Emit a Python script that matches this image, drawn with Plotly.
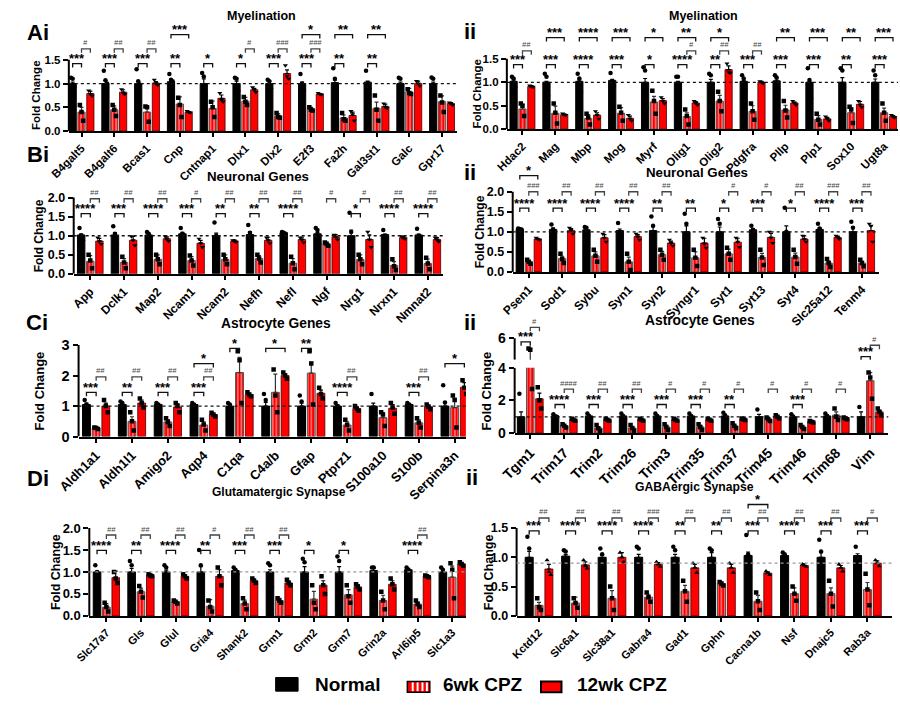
import numpy as np
import plotly.graph_objects as go

W, H = 900, 707
FONT = "Arial, Liberation Sans, sans-serif"
RED = "#ff0000"

# ======================= DATA =======================
# ---- Ai Myelination ----
ai_genes = ["B4galt5", "B4galt6", "Bcas1", "Cnp", "Cntnap1", "Dlx1", "Dlx2", "E2f3", "Fa2h", "Gal3st1", "Galc", "Gpr17"]
ai_normal = [1.0, 1.0, 1.0, 1.04, 1.0, 1.0, 1.0, 1.0, 1.02, 1.03, 1.0, 1.0]
ai_6wk = [0.40, 0.45, 0.40, 0.57, 0.48, 0.63, 0.32, 0.47, 0.28, 0.48, 0.82, 0.62]
ai_12wk = [0.79, 0.82, 1.01, 0.40, 0.69, 0.87, 1.21, 0.78, 0.33, 0.52, 1.0, 0.58]
ai_normal_err = [0.03, 0.06, 0.05, 0.03, 0.1, 0.05, 0.06, 0.03, 0.05, 0.02, 0.03, 0.03]
ai_6wk_err = [0.1, 0.08, 0.12, 0.15, 0.15, 0.08, 0.05, 0.03, 0.06, 0.13, 0.08, 0.12]
ai_12wk_err = [0.05, 0.05, 0.03, 0.01, 0.07, 0.03, 0.08, 0.01, 0.07, 0.05, 0.05, 0.02]
ai_normal_pts = [[1.12, 1.1, 0.93], [1.27, 1.07, 1.0], [1.3, 1.05, 0.98], [1.2, 1.08, 1.05], [1.22, 1.15, 0.75], [1.12, 1.1, 0.85],
                 [1.08, 1.05, 0.9], [1.2, 1.0, 0.85], [1.32, 1.1, 0.65], [1.27, 0.95, 0.9], [1.12, 1.1, 0.8], [1.13, 1.1, 0.85]]
ai_6wk_pts = [[0.55, 0.4, 0.22], [0.55, 0.45, 0.32], [0.52, 0.5, 0.2], [0.7, 0.55, 0.3], [0.62, 0.5, 0.3], [0.72, 0.62, 0.55],
              [0.38, 0.3, 0.28], [0.5, 0.45, 0.43], [0.38, 0.25, 0.22], [0.75, 0.45, 0.22], [0.88, 0.8, 0.78], [0.75, 0.6, 0.4]]
ai_12wk_pts = [[0.85, 0.78, 0.74], [0.88, 0.8, 0.78], [1.08, 1.0, 0.97], [0.42, 0.4, 0.39], [0.8, 0.65, 0.62], [0.92, 0.87, 0.82],
               [1.38, 1.15, 1.1], [0.8, 0.78, 0.77], [0.42, 0.35, 0.22], [0.58, 0.5, 0.48], [1.05, 1.0, 0.95], [0.6, 0.58, 0.55]]
ai_sig_n6 = ["***", "***", "***", "**", "*", "*", "***", "***", "**", "**", "", ""]
ai_sig_6_12 = ["#", "##", "##", "", "", "#", "###", "###", "", "", "", ""]
ai_sig_n_12 = ["", "", "", "***", "", "", "", "*", "**", "**", "", ""]

# ---- Aii Myelination ----
aii_genes = ["Hdac2", "Mag", "Mbp", "Mog", "Myrf", "Olig1", "Olig2", "Pdgfra", "Pllp", "Plp1", "Sox10", "Ugt8a"]
aii_normal = [1.02, 1.0, 1.02, 1.04, 1.0, 1.0, 1.0, 1.02, 1.03, 1.0, 1.0, 1.0]
aii_6wk = [0.43, 0.34, 0.23, 0.34, 0.58, 0.27, 0.60, 0.38, 0.41, 0.21, 0.35, 0.35]
aii_12wk = [0.91, 0.31, 0.30, 0.23, 0.61, 0.56, 1.27, 1.0, 0.56, 0.22, 0.53, 0.27]
aii_normal_err = [0.03, 0.02, 0.03, 0.02, 0.08, 0.02, 0.06, 0.02, 0.04, 0.02, 0.1, 0.07]
aii_6wk_err = [0.1, 0.15, 0.08, 0.12, 0.12, 0.08, 0.12, 0.12, 0.1, 0.08, 0.1, 0.1]
aii_12wk_err = [0.02, 0.01, 0.05, 0.05, 0.04, 0.03, 0.08, 0.02, 0.02, 0.03, 0.06, 0.02]
aii_normal_pts = [[1.12, 1.08, 0.9], [1.18, 1.12, 0.72], [1.18, 1.08, 0.8], [1.2, 1.0, 0.92], [1.32, 1.25, 0.45], [1.12, 1.12, 0.78],
                  [1.18, 1.15, 0.68], [1.15, 1.08, 0.85], [1.15, 1.1, 0.85], [1.3, 1.05, 0.65], [1.3, 1.25, 0.45], [1.25, 1.15, 0.6]]
aii_6wk_pts = [[0.55, 0.5, 0.28], [0.55, 0.35, 0.12], [0.33, 0.25, 0.1], [0.48, 0.35, 0.18], [0.82, 0.6, 0.33], [0.42, 0.28, 0.1],
               [0.8, 0.6, 0.38], [0.55, 0.38, 0.2], [0.6, 0.4, 0.25], [0.33, 0.2, 0.1], [0.48, 0.42, 0.13], [0.55, 0.35, 0.18]]
aii_12wk_pts = [[0.93, 0.91, 0.9], [0.33, 0.31, 0.3], [0.38, 0.3, 0.22], [0.3, 0.22, 0.18], [0.68, 0.6, 0.55], [0.6, 0.56, 0.52],
                [1.4, 1.22, 1.2], [1.02, 1.0, 0.98], [0.6, 0.56, 0.52], [0.27, 0.22, 0.18], [0.6, 0.52, 0.47], [0.3, 0.27, 0.25]]
aii_sig_n6 = ["***", "***", "****", "***", "*", "****", "**", "***", "***", "***", "**", "***"]
aii_sig_6_12 = ["##", "", "", "", "", "#", "##", "##", "", "", "", ""]
aii_sig_n_12 = ["", "***", "****", "***", "*", "**", "*", "", "**", "***", "**", "***"]

# ---- Bi Neuronal ----
bi_genes = ["App", "Dclk1", "Map2", "Ncam1", "Ncam2", "Nefh", "Nefl", "Ngf", "Nrg1", "Nrxn1", "Nmnat2"]
bi_normal = [1.02, 1.02, 1.02, 1.05, 1.0, 1.03, 1.08, 1.05, 1.0, 1.03, 1.02]
bi_6wk = [0.33, 0.30, 0.38, 0.35, 0.38, 0.40, 0.28, 0.78, 0.38, 0.22, 0.27]
bi_12wk = [0.86, 0.88, 0.92, 0.80, 0.86, 0.88, 0.90, 0.97, 0.90, 0.95, 0.90]
bi_normal_err = [0.03, 0.06, 0.03, 0.04, 0.07, 0.08, 0.01, 0.04, 0.15, 0.01, 0.02]
bi_6wk_err = [0.15, 0.1, 0.12, 0.1, 0.12, 0.08, 0.12, 0.05, 0.12, 0.1, 0.12]
bi_12wk_err = [0.07, 0.1, 0.05, 0.08, 0.03, 0.08, 0.06, 0.06, 0.12, 0.03, 0.05]
bi_normal_pts = [[1.2, 1.0, 0.88], [1.25, 1.05, 0.78], [1.1, 1.05, 0.9], [1.2, 1.05, 0.9], [1.35, 1.0, 0.65], [1.28, 1.08, 0.72],
                 [1.1, 1.08, 1.05], [1.2, 1.15, 0.8], [1.6, 1.1, 0.3], [1.15, 1.0, 0.95], [1.18, 1.0, 0.9]]
bi_6wk_pts = [[0.5, 0.35, 0.15], [0.45, 0.3, 0.15], [0.5, 0.38, 0.25], [0.48, 0.35, 0.22], [0.5, 0.38, 0.25], [0.5, 0.4, 0.3],
              [0.45, 0.28, 0.12], [0.82, 0.78, 0.74], [0.5, 0.38, 0.25], [0.38, 0.2, 0.1], [0.42, 0.27, 0.12]]
bi_12wk_pts = [[0.95, 0.85, 0.78], [0.98, 0.88, 0.75], [0.98, 0.92, 0.86], [0.92, 0.8, 0.7], [0.88, 0.86, 0.84], [0.95, 0.88, 0.8],
               [0.95, 0.9, 0.82], [1.02, 0.97, 0.9], [1.1, 0.9, 0.7], [0.98, 0.95, 0.92], [0.95, 0.9, 0.85]]
bi_sig_n6 = ["****", "***", "****", "***", "**", "**", "****", "", "*", "****", "****"]
bi_sig_6_12 = ["##", "##", "##", "#", "##", "##", "##", "#", "#", "##", "##"]
bi_sig_n_12 = [""] * 11

# ---- Bii Neuronal ----
bii_genes = ["Psen1", "Sod1", "Sybu", "Syn1", "Syn2", "Syngr1", "Syt1", "Syt13", "Syt4", "Slc25a12", "Tenm4"]
bii_normal = [1.07, 1.06, 1.05, 1.03, 1.03, 1.0, 1.0, 1.05, 1.0, 1.06, 1.0]
bii_6wk = [0.25, 0.33, 0.40, 0.25, 0.43, 0.35, 0.45, 0.36, 0.37, 0.22, 0.22]
bii_12wk = [0.82, 1.03, 0.85, 0.88, 0.72, 0.72, 0.74, 0.86, 0.82, 0.86, 1.03]
bii_normal_err = [0.01, 0.04, 0.02, 0.04, 0.1, 0.15, 0.12, 0.03, 0.15, 0.04, 0.12]
bii_6wk_err = [0.03, 0.06, 0.1, 0.12, 0.08, 0.15, 0.12, 0.1, 0.1, 0.05, 0.04]
bii_12wk_err = [0.02, 0.05, 0.08, 0.05, 0.05, 0.12, 0.1, 0.1, 0.08, 0.03, 0.12]
bii_normal_pts = [[1.08, 1.07, 1.06], [1.18, 1.05, 0.95], [1.12, 1.1, 0.92], [1.22, 1.0, 0.87], [1.38, 1.15, 0.56], [1.45, 1.2, 0.35],
                  [1.32, 1.2, 0.5], [1.15, 1.05, 0.95], [1.6, 1.0, 0.4], [1.2, 1.08, 0.9], [1.25, 1.1, 0.65]]
bii_6wk_pts = [[0.3, 0.25, 0.2], [0.45, 0.32, 0.22], [0.55, 0.4, 0.25], [0.45, 0.25, 0.05], [0.55, 0.43, 0.3], [0.55, 0.35, 0.15],
               [0.6, 0.45, 0.3], [0.55, 0.36, 0.17], [0.55, 0.37, 0.2], [0.32, 0.22, 0.12], [0.3, 0.22, 0.14]]
bii_12wk_pts = [[0.85, 0.82, 0.8], [1.1, 1.05, 0.95], [0.95, 0.85, 0.75], [0.95, 0.88, 0.8], [0.8, 0.72, 0.65], [0.85, 0.7, 0.6],
                [0.85, 0.75, 0.62], [1.0, 0.85, 0.72], [0.9, 0.82, 0.75], [0.9, 0.86, 0.82], [1.2, 1.15, 0.75]]
bii_sig_n6 = ["****", "****", "****", "****", "**", "**", "*", "***", "*", "****", "***"]
bii_sig_6_12 = ["###", "##", "##", "##", "##", "", "#", "#", "##", "###", "##"]
bii_sig_n_12 = ["*"] + [""] * 10

# ---- Ci Astrocyte ----
ci_genes = ["Aldh1a1", "Aldh1l1", "Amigo2", "Aqp4", "C1qa", "C4a/b", "Gfap", "Ptprz1", "S100a10", "S100b", "Serpina3n"]
ci_normal = [1.05, 1.05, 1.05, 1.05, 1.0, 1.0, 1.0, 1.0, 1.0, 1.05, 1.0]
ci_6wk = [0.28, 0.50, 0.48, 0.38, 2.10, 1.45, 2.08, 0.38, 0.62, 0.45, 0.95]
ci_12wk = [1.0, 1.1, 0.97, 0.72, 1.38, 2.0, 1.42, 0.92, 0.93, 0.98, 1.62]
ci_normal_err = [0.05, 0.05, 0.03, 0.03, 0.05, 0.12, 0.1, 0.05, 0.1, 0.03, 0.15]
ci_6wk_err = [0.02, 0.15, 0.08, 0.1, 0.5, 0.6, 0.35, 0.1, 0.15, 0.1, 0.3]
ci_12wk_err = [0.1, 0.1, 0.1, 0.03, 0.04, 0.06, 0.1, 0.04, 0.12, 0.05, 0.15]
ci_normal_pts = [[1.2, 1.05, 0.9], [1.15, 1.1, 0.9], [1.1, 1.05, 1.0], [1.1, 1.05, 1.0], [1.1, 1.05, 0.85], [1.4, 1.2, 0.5],
                 [1.35, 1.15, 0.5], [1.1, 1.0, 0.9], [1.4, 0.9, 0.7], [1.1, 1.05, 1.0], [1.68, 1.12, 0.3]]
ci_6wk_pts = [[0.3, 0.28, 0.25], [0.8, 0.5, 0.2], [0.6, 0.48, 0.35], [0.55, 0.4, 0.2], [2.8, 2.5, 1.1], [2.2, 1.35, 0.8],
              [2.8, 2.4, 1.05], [0.55, 0.38, 0.2], [0.8, 0.72, 0.35], [0.6, 0.45, 0.3], [1.35, 1.2, 0.3]]
ci_12wk_pts = [[1.2, 1.0, 0.8], [1.25, 1.1, 0.95], [1.1, 1.0, 0.8], [0.78, 0.72, 0.66], [1.45, 1.38, 1.32], [2.1, 2.0, 1.9],
               [1.6, 1.4, 1.25], [1.0, 0.92, 0.85], [1.1, 0.95, 0.75], [1.05, 0.98, 0.9], [1.85, 1.6, 1.4]]
ci_sig_n6 = ["***", "**", "***", "***", "*", "", "**", "****", "", "***", ""]
ci_sig_6_12 = ["##", "##", "##", "##", "", "", "", "##", "", "##", ""]
ci_sig_n_12 = ["", "", "", "*", "", "*", "", "", "", "", "*"]

# ---- Cii Astrocyte ----
cii_genes = ["Tgm1", "Trim17", "Trim2", "Trim26", "Trim3", "Trim35", "Trim37", "Trim45", "Trim46", "Trim68", "Vim"]
cii_normal = [1.0, 1.05, 1.05, 1.05, 1.05, 1.05, 1.05, 1.0, 1.0, 1.05, 1.0]
cii_6wk = [4.4, 0.45, 0.32, 0.32, 0.38, 0.38, 0.45, 0.85, 0.37, 1.1, 3.2]
cii_12wk = [2.1, 0.82, 0.82, 0.82, 0.82, 0.82, 0.85, 1.0, 0.7, 0.9, 1.3]
cii_normal_err = [0.3, 0.05, 0.05, 0.05, 0.05, 0.05, 0.05, 0.15, 0.08, 0.05, 0.3]
cii_6wk_err = [0.9, 0.04, 0.08, 0.08, 0.1, 0.1, 0.08, 0.05, 0.08, 0.2, 0.5]
cii_12wk_err = [0.35, 0.03, 0.03, 0.03, 0.03, 0.03, 0.03, 0.05, 0.03, 0.03, 0.1]
cii_normal_pts = [[2.4, 0.4, 0.2], [1.15, 1.0, 1.0], [1.2, 1.05, 0.9], [1.2, 1.05, 0.9], [1.2, 1.05, 0.9], [1.2, 1.05, 0.9],
                  [1.25, 1.1, 0.8], [1.45, 0.85, 0.7], [1.15, 1.0, 0.85], [1.2, 1.05, 0.9], [1.6, 0.9, 0.5]]
cii_6wk_pts = [[5.3, 5.2, 2.7], [0.55, 0.45, 0.35], [0.5, 0.3, 0.15], [0.5, 0.32, 0.15], [0.55, 0.38, 0.2], [0.55, 0.38, 0.2],
               [0.6, 0.45, 0.3], [0.95, 0.85, 0.75], [0.5, 0.37, 0.25], [1.5, 1.0, 0.8], [3.7, 3.4, 2.1]]
cii_12wk_pts = [[2.8, 2.0, 1.5], [0.88, 0.82, 0.76], [0.88, 0.82, 0.76], [0.88, 0.82, 0.76], [0.88, 0.82, 0.76], [0.88, 0.82, 0.76],
                [0.9, 0.85, 0.8], [1.1, 1.0, 0.9], [0.75, 0.7, 0.65], [0.95, 0.9, 0.85], [1.5, 1.3, 1.1]]
cii_sig_n6 = ["***", "****", "***", "***", "***", "***", "**", "", "***", "", "***"]
cii_sig_6_12 = ["#", "####", "##", "##", "#", "#", "#", "#", "#", "#", "#"]
cii_sig_n_12 = [""] * 11

# ---- Di Glutamatergic ----
di_genes = ["Slc17a7", "Gls", "Glul", "Gria4", "Shank2", "Grm1", "Grm2", "Grm7", "Grin2a", "Arl6ip5", "Slc1a3"]
di_normal = [1.0, 1.0, 1.0, 1.0, 1.03, 1.0, 1.0, 1.0, 1.03, 1.05, 1.0]
di_6wk = [0.20, 0.55, 0.32, 0.22, 0.28, 0.35, 0.38, 0.48, 0.35, 0.27, 0.88]
di_12wk = [0.87, 0.92, 0.90, 0.90, 0.80, 0.75, 0.70, 0.66, 0.72, 0.90, 1.18]
di_normal_err = [0.02, 0.08, 0.04, 0.12, 0.03, 0.05, 0.12, 0.12, 0.05, 0.03, 0.05]
di_6wk_err = [0.08, 0.08, 0.03, 0.15, 0.08, 0.05, 0.18, 0.12, 0.12, 0.05, 0.25]
di_12wk_err = [0.15, 0.03, 0.03, 0.15, 0.04, 0.05, 0.1, 0.05, 0.08, 0.02, 0.03]
di_normal_pts = [[1.15, 1.0, 0.85], [1.25, 1.15, 0.6], [1.15, 1.1, 0.75], [1.5, 1.15, 0.35], [1.1, 1.05, 0.95], [1.2, 1.15, 0.65],
                 [1.3, 1.22, 0.5], [1.35, 1.25, 0.4], [1.1, 1.1, 0.9], [1.1, 1.05, 1.0], [1.1, 1.05, 0.85]]
di_6wk_pts = [[0.3, 0.2, 0.1], [0.68, 0.55, 0.42], [0.35, 0.32, 0.28], [0.35, 0.2, 0.1], [0.4, 0.28, 0.15], [0.4, 0.35, 0.3],
              [0.7, 0.3, 0.15], [0.7, 0.45, 0.3], [0.55, 0.35, 0.15], [0.35, 0.27, 0.2], [1.2, 1.05, 0.4]]
di_12wk_pts = [[1.0, 0.85, 0.75], [0.95, 0.92, 0.9], [0.95, 0.9, 0.85], [1.1, 0.9, 0.7], [0.85, 0.8, 0.75], [0.82, 0.75, 0.7],
               [0.9, 0.7, 0.5], [0.72, 0.66, 0.6], [0.85, 0.72, 0.6], [0.92, 0.9, 0.88], [1.22, 1.18, 1.14]]
di_sig_n6 = ["****", "**", "****", "**", "***", "***", "*", "*", "", "****", ""]
di_sig_6_12 = ["##", "##", "##", "#", "##", "##", "", "", "", "##", ""]
di_sig_n_12 = [""] * 11

# ---- Dii GABAergic ----
dii_genes = ["Kctd12", "Slc6a1", "Slc38a1", "Gabra4", "Gad1", "Gphn", "Cacna1b", "Nsf", "Dnajc5", "Rab3a"]
dii_normal = [1.0, 1.02, 1.0, 1.0, 1.0, 1.0, 1.03, 1.03, 1.0, 1.03]
dii_6wk = [0.18, 0.22, 0.30, 0.32, 0.42, 0.55, 0.25, 0.38, 0.38, 0.45]
dii_12wk = [0.80, 0.87, 1.0, 0.88, 0.82, 0.82, 0.73, 0.86, 0.82, 0.90]
dii_normal_err = [0.1, 0.03, 0.03, 0.05, 0.05, 0.08, 0.06, 0.02, 0.08, 0.03]
dii_6wk_err = [0.05, 0.1, 0.13, 0.05, 0.1, 0.03, 0.1, 0.1, 0.1, 0.12]
dii_12wk_err = [0.08, 0.05, 0.08, 0.03, 0.06, 0.06, 0.02, 0.03, 0.04, 0.04]
dii_normal_pts = [[1.35, 1.15, 0.5], [1.12, 1.1, 0.85], [1.15, 1.05, 0.8], [1.18, 1.15, 0.67], [1.18, 1.12, 0.7], [1.15, 1.12, 0.73],
                  [1.38, 1.05, 0.66], [1.08, 1.05, 0.96], [1.3, 1.1, 0.6], [1.18, 1.0, 0.9]]
dii_6wk_pts = [[0.3, 0.15, 0.1], [0.3, 0.22, 0.14], [0.5, 0.3, 0.1], [0.4, 0.32, 0.24], [0.6, 0.42, 0.24], [0.58, 0.55, 0.52],
               [0.4, 0.25, 0.1], [0.5, 0.38, 0.26], [0.6, 0.38, 0.16], [0.72, 0.45, 0.18]]
dii_12wk_pts = [[0.95, 0.75, 0.7], [0.95, 0.85, 0.81], [1.08, 1.0, 0.92], [0.92, 0.88, 0.84], [0.9, 0.82, 0.74], [0.9, 0.82, 0.74],
                [0.76, 0.73, 0.7], [0.88, 0.86, 0.84], [0.88, 0.82, 0.76], [0.95, 0.9, 0.85]]
dii_sig_n6 = ["***", "****", "****", "****", "**", "**", "***", "****", "***", "***"]
dii_sig_6_12 = ["##", "##", "##", "###", "##", "##", "##", "##", "##", "#"]
dii_sig_n_12 = ["", "", "", "", "", "", "*", "", "", ""]

legend_names = ["Normal", "6wk CPZ", "12wk CPZ"]

# ======================= LAYOUT CONFIG =======================
panels = [
    dict(genes=ai_genes, means=(ai_normal, ai_6wk, ai_12wk), errs=(ai_normal_err, ai_6wk_err, ai_12wk_err),
         pts=(ai_normal_pts, ai_6wk_pts, ai_12wk_pts),
         sig=(ai_sig_n6, ai_sig_6_12, ai_sig_n_12), levels=(1.42, 1.73, 2.03),
         left=48, c0=61, sp=33.6, right=446, y0=126, ppu=48.67, ytop=2.18,
         yticks=[0, 0.5, 1.0, 1.5], fmt="{:.1f}", ref=1.0, refcol="#111", yfs=11.5, xfs=11.5,
         title="Myelination", tx=246, ty=8, tfs=12.5, lab="Ai", lx=3, ly=25, ytx=15, yts=11.5, sym12="triangle-down"),
    dict(genes=aii_genes, means=(aii_normal, aii_6wk, aii_12wk), errs=(aii_normal_err, aii_6wk_err, aii_12wk_err),
         pts=(aii_normal_pts, aii_6wk_pts, aii_12wk_pts),
         sig=(aii_sig_n6, aii_sig_6_12, aii_sig_n_12), levels=(1.375, 1.67, 1.95),
         left=497, c0=513, sp=33.7, right=898, y0=124, ppu=48, ytop=2.2,
         yticks=[0, 0.5, 1.0, 1.5], fmt="{:.1f}", ref=1.0, refcol="#111", yfs=11.5, xfs=11.5,
         title="Myelination", tx=699, ty=8, tfs=12.5, lab="ii", lx=451, ly=24, ytx=466, yts=11.5, sym12="triangle-down"),
    dict(genes=bi_genes, means=(bi_normal, bi_6wk, bi_12wk), errs=(bi_normal_err, bi_6wk_err, bi_12wk_err),
         pts=(bi_normal_pts, bi_6wk_pts, bi_12wk_pts),
         sig=(bi_sig_n6, bi_sig_6_12, bi_sig_n_12), levels=(1.58, 1.97, 2.3),
         left=53, c0=70, sp=34.6, right=432, y0=272, ppu=39, ytop=2.36,
         yticks=[0, 0.5, 1.0, 1.5, 2.0], fmt="{:.1f}", ref=1.0, refcol="#111", yfs=12.5, xfs=12,
         title="Neuronal Genes", tx=242, ty=172, tfs=13.3, lab="Bi", lx=3, ly=150, ytx=17, yts=12, sym12="triangle-down"),
    dict(genes=bii_genes, means=(bii_normal, bii_6wk, bii_12wk), errs=(bii_normal_err, bii_6wk_err, bii_12wk_err),
         pts=(bii_normal_pts, bii_6wk_pts, bii_12wk_pts),
         sig=(bii_sig_n6, bii_sig_6_12, bii_sig_n_12), levels=(1.59, 2.0, 2.4),
         left=503, c0=519.5, sp=34.15, right=878, y0=270, ppu=41, ytop=2.73,
         yticks=[0, 0.5, 1.0, 1.5, 2.0], fmt="{:.1f}", ref=1.0, refcol="#111", yfs=12.5, xfs=12,
         title="Neuronal Genes", tx=692, ty=168, tfs=13.3, lab="ii", lx=451, ly=168, ytx=469, yts=12, sym12="triangle-down"),
    dict(genes=ci_genes, means=(ci_normal, ci_6wk, ci_12wk), errs=(ci_normal_err, ci_6wk_err, ci_12wk_err),
         pts=(ci_normal_pts, ci_6wk_pts, ci_12wk_pts),
         sig=(ci_sig_n6, ci_sig_6_12, ci_sig_n_12), levels=(1.45, 1.96, 2.39),
         override={(4, "N6"): 2.89, (5, "N12"): 2.89, (6, "N6"): 2.89},
         left=58, c0=76, sp=36.75, right=455, y0=438.5, ppu=31.2, ytop=3.35,
         yticks=[0, 1, 2, 3], fmt="{:.0f}", ref=1.0, refcol="#111", yfs=14.5, xfs=13,
         title="Astrocyte Genes", tx=260, ty=323, tfs=13.8, lab="Ci", lx=2, ly=322, ytx=18, yts=13, sym12="square"),
    dict(genes=cii_genes, means=(cii_normal, cii_6wk, cii_12wk), errs=(cii_normal_err, cii_6wk_err, cii_12wk_err),
         pts=(cii_normal_pts, cii_6wk_pts, cii_12wk_pts),
         sig=(cii_sig_n6, cii_sig_6_12, cii_sig_n_12), levels=(1.75, 2.69, 3.2),
         upper=dict(rng=[4.5, 7.5], ybot=360, ppu=14.67, ticks=[6], axtop=6),
         upover={(0, "N6"): 5.75, (0, "612"): 6.77, (10, "N6"): 4.72, (10, "612"): 5.52},
         left=505, c0=521, sp=34.85, right=888, y0=435, ppu=16.75, ytop=4.0,
         yticks=[0, 2, 4], fmt="{:.0f}", ref=1.0, refcol="#111", yfs=14, xfs=14,
         title="Astrocyte Genes", tx=695, ty=320, tfs=13.8, lab="ii", lx=451, ly=322, ytx=476, yts=13, sym12="square"),
    dict(genes=di_genes, means=(di_normal, di_6wk, di_12wk), errs=(di_normal_err, di_6wk_err, di_12wk_err),
         pts=(di_normal_pts, di_6wk_pts, di_12wk_pts),
         sig=(di_sig_n6, di_sig_6_12, di_sig_n_12), levels=(1.49, 1.84, 2.1),
         left=69, c0=86.5, sp=35.45, right=455, y0=622, ppu=45, ytop=2.11,
         yticks=[0, 0.5, 1.0, 1.5, 2.0], fmt="{:.1f}", ref=1.0, refcol="#999", yfs=13, xfs=11,
         title="Glutamatergic Synapse", tx=263, ty=495, tfs=12, lab="Di", lx=3, ly=481, ytx=35, yts=12.5, sym12="square"),
    dict(genes=dii_genes, means=(dii_normal, dii_6wk, dii_12wk), errs=(dii_normal_err, dii_6wk_err, dii_12wk_err),
         pts=(dii_normal_pts, dii_6wk_pts, dii_12wk_pts),
         sig=(dii_sig_n6, dii_sig_6_12, dii_sig_n_12), levels=(1.45, 1.67, 1.9),
         left=507, c0=530, sp=37.4, right=892, y0=622, ppu=60, ytop=2.03,
         yticks=[0, 0.5, 1.0, 1.5], fmt="{:.1f}", ref=0.9, refcol="#999", yfs=12.5, xfs=11,
         title="GABAergic Synapse", tx=689, ty=490, tfs=12.2, lab="ii", lx=453, ly=480, ytx=479, yts=12.5, sym12="triangle-up"),
]

OFF = 0.27
BW = 0.22
JIT = [-0.05, 0.0, 0.05]

fig = go.Figure()
layout = {}
shapes = []
annots = []


def names(k):
    return ("x" if k == 1 else f"x{k}", "y" if k == 1 else f"y{k}",
            "xaxis" if k == 1 else f"xaxis{k}", "yaxis" if k == 1 else f"yaxis{k}")


def add_data(p, xa, ya):
    n = len(p["genes"])
    idx = np.arange(n)
    offs = [-OFF, 0.0, OFF]
    for g in range(3):
        if g == 0:
            mk = dict(color="black", line=dict(color="black", width=1))
            ec = "black"
        elif g == 1:
            mk = dict(color=RED, line=dict(color="#555", width=1),
                      pattern=dict(shape="|", fillmode="overlay", fgcolor="white", size=3.5, solidity=0.4))
            ec = "#333"
        else:
            mk = dict(color=RED, line=dict(color="#400", width=0.8))
            ec = "black"
        fig.add_trace(go.Bar(x=idx + offs[g], y=p["means"][g], width=BW, marker=mk,
                             error_y=dict(type="data", array=p["errs"][g], arrayminus=np.zeros(n), symmetric=False,
                                          color=ec, thickness=1.2, width=2),
                             xaxis=xa, yaxis=ya, showlegend=False, hoverinfo="skip", name=legend_names[g]))
    syms = ["circle", "square", p["sym12"]]
    for g in range(3):
        pts = np.array(p["pts"][g], dtype=float)
        xs, ys = [], []
        for j in range(pts.shape[1]):
            xs.extend(idx + offs[g] + JIT[j])
            ys.extend(pts[:, j])
        fig.add_trace(go.Scatter(x=xs, y=ys, mode="markers",
                                 marker=dict(symbol=syms[g], size=4.5, color="black"),
                                 xaxis=xa, yaxis=ya, showlegend=False, hoverinfo="skip"))


for k, p in enumerate(panels, start=1):
    xa, ya, xk, yk = names(k)
    n = len(p["genes"])
    xr = [-(p["c0"] - p["left"]) / p["sp"], (p["right"] - p["c0"]) / p["sp"]]
    xd = [p["left"] / W, p["right"] / W]
    yd = [1 - p["y0"] / H, 1 - (p["y0"] - p["ytop"] * p["ppu"]) / H]
    tf = dict(family=FONT, size=p["xfs"], color="black", weight="bold")
    layout[xk] = dict(domain=xd, range=xr, anchor=ya, tickmode="array", tickvals=list(range(n)),
                      ticktext=p["genes"], tickangle=-45, tickfont=tf, ticks="outside", ticklen=4,
                      tickwidth=1.5, tickcolor="black", showline=True, linecolor="black", linewidth=2,
                      showgrid=False, zeroline=False, fixedrange=True)
    layout[yk] = dict(domain=yd, range=[0, p["ytop"]], anchor=xa, tickmode="array", tickvals=p["yticks"],
                      ticktext=[p["fmt"].format(v) for v in p["yticks"]],
                      tickfont=dict(family=FONT, size=p["yfs"], color="black", weight="bold"),
                      ticks="outside", ticklen=5, tickwidth=2, tickcolor="black", showline=False,
                      showgrid=False, zeroline=False, fixedrange=True)
    add_data(p, xa, ya)
    shapes.append(dict(type="line", xref=f"{xa} domain", yref=ya, x0=0, x1=0, y0=0, y1=p["yticks"][-1],
                       line=dict(color="black", width=2)))
    shapes.append(dict(type="line", xref=f"{xa} domain", yref=ya, x0=0, x1=1, y0=p["ref"], y1=p["ref"],
                       line=dict(color=p["refcol"], width=1.3, dash="dot")))
    up_names = None
    if "upper" in p:
        u = p["upper"]
        uxa, uya, uxk, uyk = names(9)
        uyd = [1 - u["ybot"] / H, 1 - (u["ybot"] - (u["rng"][1] - u["rng"][0]) * u["ppu"]) / H]
        layout[uxk] = dict(domain=xd, range=xr, anchor=uya, visible=False, fixedrange=True)
        layout[uyk] = dict(domain=uyd, range=u["rng"], anchor=uxa, tickmode="array", tickvals=u["ticks"],
                           ticktext=[p["fmt"].format(v) for v in u["ticks"]],
                           tickfont=dict(family=FONT, size=p["yfs"], color="black", weight="bold"),
                           ticks="outside", ticklen=5, tickwidth=2, tickcolor="black", showline=False,
                           showgrid=False, zeroline=False, fixedrange=True)
        add_data(p, uxa, uya)
        shapes.append(dict(type="line", xref=f"{uxa} domain", yref=uya, x0=0, x1=0, y0=u["rng"][0], y1=u["axtop"],
                           line=dict(color="black", width=2)))
        up_names = (uxa, uya, u["ppu"])
    kinds = [("N6", -OFF, 0.0), ("612", 0.0, OFF), ("N12", -OFF, OFF)]
    for gi in range(n):
        for ki, (kn, a, b) in enumerate(kinds):
            lab = p["sig"][ki][gi]
            if not lab:
                continue
            lvl = p["levels"][ki]
            bxa, bya, ppu = xa, ya, p["ppu"]
            if "override" in p and (gi, kn) in p["override"]:
                lvl = p["override"][(gi, kn)]
            if up_names and (gi, kn) in p.get("upover", {}):
                lvl = p["upover"][(gi, kn)]
                bxa, bya, ppu = up_names
            drop = 4.0 / ppu
            x1, x2 = gi + a, gi + b
            is_hash = lab.startswith("#")
            shapes.append(dict(type="path", xref=bxa, yref=bya,
                               path=f"M {x1},{lvl - drop} L {x1},{lvl} L {x2},{lvl} L {x2},{lvl - drop}",
                               line=dict(color="#444" if is_hash else "#111", width=1.3)))
            if is_hash:
                annots.append(dict(x=(x1 + x2) / 2, y=lvl, xref=bxa, yref=bya, text=f"<i>{lab}</i>",
                                   showarrow=False, yanchor="middle", yshift=6,
                                   font=dict(family=FONT, size=7.5, color="#444")))
            else:
                annots.append(dict(x=(x1 + x2) / 2, y=lvl, xref=bxa, yref=bya, text=f"<b>{lab}</b>",
                                   showarrow=False, yanchor="middle", yshift=5,
                                   font=dict(family=FONT, size=13, color="black")))
    annots.append(dict(x=p["tx"] / W, y=1 - p["ty"] / H, xref="paper", yref="paper", text=f"<b>{p['title']}</b>",
                       showarrow=False, xanchor="center", yanchor="middle",
                       font=dict(family=FONT, size=p["tfs"], color="black")))
    annots.append(dict(x=p["lx"] / W, y=1 - p["ly"] / H, xref="paper", yref="paper", text=f"<b>{p['lab']}</b>",
                       showarrow=False, xanchor="left", yanchor="middle",
                       font=dict(family=FONT, size=22, color="black")))
    ymid_px = p["y0"] - p["yticks"][-1] * p["ppu"] / 2
    if "upper" in p:
        ymid_px = 392
    annots.append(dict(x=p["ytx"] / W, y=1 - ymid_px / H, xref="paper", yref="paper", text="<b>Fold Change</b>",
                       showarrow=False, textangle=-90, xanchor="center", yanchor="middle",
                       font=dict(family=FONT, size=p["yts"], color="black")))


def px_rect(x0, y0, x1, y1, **kw):
    d = dict(type="rect", xref="paper", yref="paper", x0=x0 / W, x1=x1 / W, y0=1 - y1 / H, y1=1 - y0 / H)
    d.update(kw)
    return d


shapes.append(px_rect(260, 685, 283, 699, fillcolor="black", line=dict(color="black", width=1)))
shapes.append(px_rect(395, 689, 418, 700, fillcolor=RED, line=dict(color="black", width=1.5)))
for sx in [399.5, 404.5, 409.5, 414]:
    shapes.append(px_rect(sx, 690, sx + 2, 699, fillcolor="white", line=dict(width=0)))
shapes.append(px_rect(532, 689, 553, 700, fillcolor=RED, line=dict(color="black", width=2)))
for name, lx in zip(legend_names, [298, 430, 567]):
    annots.append(dict(x=lx / W, y=1 - 692 / H, xref="paper", yref="paper", text=f"<b>{name}</b>",
                       showarrow=False, xanchor="left", yanchor="middle",
                       font=dict(family=FONT, size=19, color="black")))

fig.update_layout(width=W, height=H, margin=dict(l=0, r=0, t=0, b=0), autosize=False,
                  paper_bgcolor="white", plot_bgcolor="white", barmode="overlay", showlegend=False,
                  shapes=shapes, annotations=annots, **layout)
fig.write_html("out.html")
